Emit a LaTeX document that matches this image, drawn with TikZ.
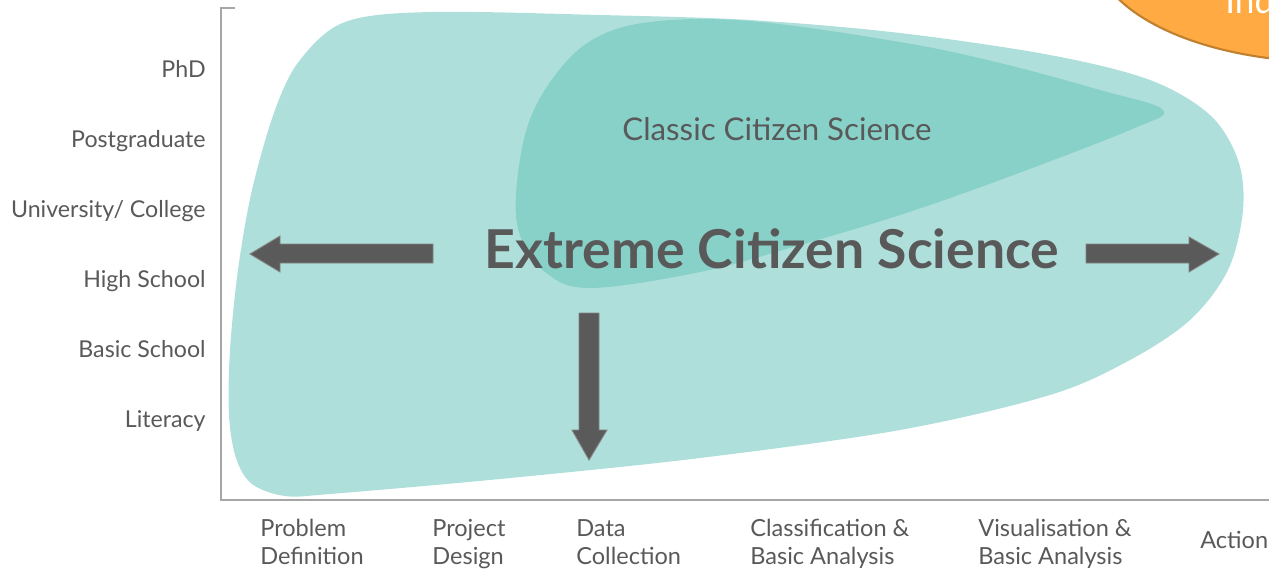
\documentclass[tikz,border=0pt]{standalone}
\usepackage{fontspec}
\setmainfont{Lato}
\usetikzlibrary{positioning}

\definecolor{ecsteal}{HTML}{AFDFDB}
\definecolor{ccsteal}{HTML}{88D1C8}
\definecolor{labelgrey}{HTML}{595959}
\definecolor{axisgrey}{HTML}{A6A6A6}
\definecolor{arrowgrey}{HTML}{5A5A5A}
\definecolor{orangefill}{HTML}{FFAA42}
\definecolor{orangeline}{HTML}{C0812F}

\begin{document}
\begin{tikzpicture}[x=0.02cm,y=-0.02cm,
    level/.style={anchor=base east,inner sep=0pt,text=labelgrey,font=\fontsize{13.2}{16}\selectfont},
    stage/.style={anchor=north west,inner sep=0pt,align=left,text=labelgrey,font=\fontsize{13.4}{15.9}\selectfont},
    blockarrow/.style={fill=arrowgrey,draw=arrowgrey!75!white,line width=0.5pt}]
      \useasboundingbox (0,0) rectangle (1269,569);

      % orange blob, top right
      \draw[fill=orangefill,draw=orangeline,line width=1.2pt] (1330,-50) ellipse [x radius=235,y radius=112];
      \node[anchor=base west,inner sep=0pt,text=white,font=\fontsize{20}{24}\selectfont] (ind) at (1225,13) {Ind};

      % extreme citizen science
      \fill[ecsteal] plot[smooth cycle,tension=0.55] coordinates {
        (330,494) (285,496) (252,484) (236,458) (229,415) (230,350) (238,270) (252,190)
        (275,110) (300,60) (345,22) (430,12) (600,15) (750,20) (900,33) (1050,55)
        (1150,80) (1210,115) (1238,160) (1243,210) (1228,270) (1190,320)
        (1130,360) (1050,395) (900,430) (700,458) (500,479)};

      % classic citizen science
      \fill[ccsteal] plot[smooth cycle,tension=0.6] coordinates {
        (590,288) (545,272) (521,238) (516,195) (527,128) (553,78) (592,40)
        (650,22) (750,21) (900,42) (1000,63) (1100,90) (1163,110) (1130,130)
        (1000,180) (900,215) (800,245) (700,272)};

      % axes
      \draw[axisgrey,line width=1.2pt] (235,8) -- (221,8) -- (221,500) -- (1269,500);

      \node[level] (phd) at (206,77) {PhD};
      \node[level] (pg) at (206,147) {Postgraduate};
      \node[level] (uni) at (206,217) {University/ College};
      \node[level] (hs) at (206,287) {High School};
      \node[level] (bs) at (206,357) {Basic School};
      \node[level] (lit) at (206,427) {Literacy};

      \node[stage] (probdef) at (260,519) {Problem\\Definition};
      \node[stage] (projdes) at (432,519) {Project\\Design};
      \node[stage] (datacol) at (576,519) {Data\\Collection};
      \node[stage] (classif) at (750,519) {Classification \&\\Basic Analysis};
      \node[stage] (visual) at (978,519) {Visualisation \&\\Basic Analysis};
      \node[stage,anchor=west] (action) at (1200,540) {Action};

      \node[text=labelgrey,font=\fontsize{17.8}{22}\selectfont] (classic) at (777,129) {Classic Citizen Science};
      \node[text=labelgrey,font=\bfseries\fontsize{30.5}{35}\selectfont] (extreme) at (772,249) {Extreme Citizen Science};

      % arrows out of the middle
      \filldraw[blockarrow] (433,244) -- (280,244) -- (280,236) -- (250,254)
        -- (280,272) -- (280,263) -- (433,263) -- cycle;
      \filldraw[blockarrow] (1086,244) -- (1189,244) -- (1189,237) -- (1219,254)
        -- (1189,272) -- (1189,263) -- (1086,263) -- cycle;
      \filldraw[blockarrow] (579,313) -- (599,313) -- (599,430) -- (607,430)
        -- (589,460) -- (572,430) -- (579,430) -- cycle;

    \end{tikzpicture}
\end{document}
